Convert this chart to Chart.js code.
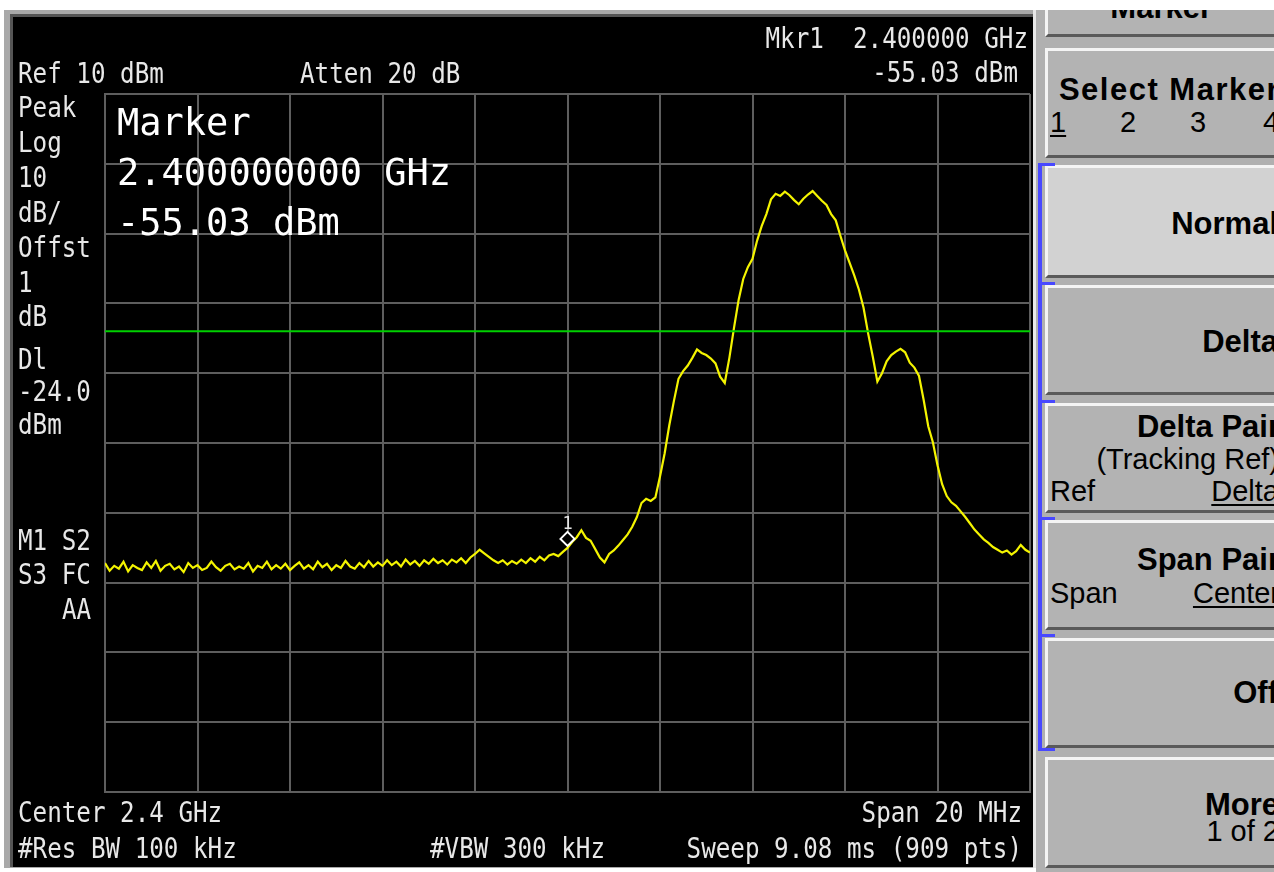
<!DOCTYPE html>
<html>
<head>
<meta charset="utf-8">
<title>Spectrum analyzer - Marker</title>
<script src="https://cdn.jsdelivr.net/npm/chart.js@4.4.0/dist/chart.umd.min.js"></script>
<style>
  html, body { margin: 0; padding: 0; }
  body { position: relative; width: 1274px; height: 872px; overflow: hidden; background: #fff; }
  #bezel { position: absolute; left: 4px; top: 10px; width: 1032px; height: 858px; background: #a9a9a9; }
  #screen { position: absolute; left: 10px; top: 14px; width: 1023px; height: 853px; background: #000;
            border-left: 3px solid #555; border-top: 3px solid #555; box-sizing: border-box; }
  #edge { position: absolute; left: 1033px; top: 10px; width: 3px; height: 858px; background: #e8e8e8; }
  canvas#trace { position: absolute; left: 13px; top: 17px; }
  #panel { position: absolute; left: 1036px; top: 10px; width: 238px; height: 862px; background: #b0b0b0; }
  .key { position: absolute; left: 1045px; width: 240px; background: #b3b3b3; box-sizing: border-box;
         border-top: 3px solid #f4f4f4; border-left: 3px solid #f4f4f4; border-bottom: 3px solid #5a5a5a; }
  .lbl { position: absolute; white-space: nowrap; color: #000; font-family: "Liberation Sans", Arial, sans-serif; }
  .bracket { position: absolute; background: #4848ff; }
  #topband { position: absolute; left: 0; top: 0; width: 1274px; height: 10px; background: #fff; }
</style>
</head>
<body>
<div id="bezel"></div>
<div id="screen"></div>
<div id="edge"></div>
<div id="panel"></div>
<canvas id="trace" width="1020" height="850"></canvas>
<div id="topband"></div>

<script>
// sweep: center 2.4 GHz, span 20 MHz, one reading every 0.1 MHz
const sweepStart = 2390;
const sweepStep = 0.1;

// trace amplitude (dBm)
const traceDbm = [
  -57.2, -58.3, -57.6, -58.0, -57.0, -58.4, -57.5, -57.9, -58.2, -57.1,
  -57.9, -56.9, -58.3, -57.6, -57.3, -58.1, -57.7, -58.5, -57.2, -57.9,
  -57.5, -58.2, -57.9, -57.0, -57.8, -58.3, -57.6, -57.3, -58.1, -57.7,
  -58.0, -57.2, -58.4, -57.6, -57.9, -57.0, -58.1, -57.5, -58.0, -57.3,
  -58.2, -57.6, -57.1, -58.0, -57.5, -58.1, -57.0, -57.8, -57.3, -58.2,
  -57.5, -57.9, -56.9, -57.7, -58.0, -57.2, -57.8, -56.9, -57.7, -57.1,
  -57.6, -56.8, -57.5, -57.0, -57.7, -56.7, -57.4, -56.9, -57.6, -56.8,
  -57.3, -56.6, -57.2, -56.8, -57.4, -56.7, -57.1, -56.5, -57.2, -56.4,
  -55.9, -55.3, -55.8, -56.3, -56.8, -57.2, -56.8, -57.4, -56.9, -57.3,
  -56.7, -57.2, -56.5, -57.0, -56.3, -56.8, -56.1, -55.9, -56.2, -55.6,
  -55.03, -54.2, -53.5, -52.5, -53.6, -54.0, -55.2, -56.4, -57.1, -55.9,
  -55.4, -54.7, -53.9, -53.1, -52.0, -50.6, -48.6, -48.0, -48.3, -47.8,
  -44.8, -41.5, -37.5, -34.0, -30.8, -29.7, -28.9, -27.8, -26.6, -27.1,
  -27.4, -27.9, -28.6, -30.5, -31.4, -27.8, -23.5, -19.5, -16.5, -14.8,
  -13.6, -11.0, -8.9, -7.2, -5.1, -4.3, -4.6, -4.0, -4.5, -5.2,
  -5.8, -5.0, -4.4, -3.9, -4.6, -5.3, -5.9, -7.2, -8.1, -10.3,
  -12.4, -14.2, -16.0, -18.0, -20.6, -24.3, -27.6, -31.2, -30.0, -28.3,
  -27.4, -26.9, -26.5, -27.0, -28.5, -29.2, -30.4, -33.8, -37.6, -39.9,
  -43.2, -45.9, -47.6, -48.5, -49.0, -49.8, -50.6, -51.5, -52.4, -53.1,
  -53.8, -54.3, -54.9, -55.3, -55.7, -55.4, -56.0, -55.5, -54.6, -55.3, -55.7
];

const markerFreq = 2400;
const markerDbm = -55.03;
const displayLine = -24.0;
const refLevel = 10;
const dbPerDiv = 10;

// screen annotations: [text, x, baseline, align]
const smallText = [
  ["Ref 10 dBm", 18, 83], ["Atten 20 dB", 300, 83],
  ["Mkr1  2.400000 GHz", 1028, 48, "right"], ["-55.03 dBm", 1018, 82, "right"],
  ["Peak", 18, 117], ["Log", 18, 152], ["10", 18, 187], ["dB/", 18, 222],
  ["Offst", 18, 257], ["1", 18, 292], ["dB", 18, 326],
  ["Dl", 18, 369], ["-24.0", 18, 401], ["dBm", 18, 434],
  ["M1 S2", 18, 550], ["S3 FC", 18, 584], ["AA", 62, 619],
  ["Center 2.4 GHz", 18, 822], ["Span 20 MHz", 1022, 822, "right"],
  ["#Res BW 100 kHz", 18, 858], ["#VBW 300 kHz", 430, 858],
  ["Sweep 9.08 ms (909 pts)", 1022, 858, "right"]
];
const bigText = [
  ["Marker", 117, 135], ["2.400000000 GHz", 117, 185], ["-55.03 dBm", 117, 235]
];

// soft keys: top/bottom in page px, labels [text, x, baseline, bold, align, underline]
const softKeys = [
  { top: 10, bottom: 37, noTop: true, labels: [["Marker", 1212, 18, true, "right"]] },
  { top: 48, bottom: 158, labels: [["Select Marker", 1280, 100, true, "right", false, 1.5],
      ["1", 1050, 133, false, "left", true], ["2", 1120, 133], ["3", 1190, 133], ["4", 1263, 133]] },
  { top: 165, bottom: 278, bg: "#d2d2d2", labels: [["Normal", 1278, 234, true, "right"]] },
  { top: 285, bottom: 395, labels: [["Delta", 1278, 352, true, "right"]] },
  { top: 403, bottom: 513, labels: [["Delta Pair", 1280, 437, true, "right"],
      ["(Tracking Ref)", 1279, 470, false, "right"], ["Ref", 1050, 502],
      ["Delta", 1279, 502, false, "right", true]] },
  { top: 520, bottom: 630, labels: [["Span Pair", 1280, 570, true, "right"],
      ["Span", 1050, 604], ["Center", 1280, 604, false, "right", true]] },
  { top: 638, bottom: 748, labels: [["Off", 1278, 703, true, "right"]] },
  { top: 757, bottom: 868, labels: [["More", 1279, 815, true, "right"], ["1 of 2", 1279, 842, false, "right"]] }
];
const bracketTicks = [163, 282, 400, 517, 634, 748];

// ---------- soft key panel ----------
softKeys.forEach((k) => {
  let d = document.createElement("div");
  d.className = "key";
  d.style.top = k.top + "px";
  d.style.height = k.bottom - k.top + "px";
  if (k.bg) d.style.background = k.bg;
  if (k.noTop) d.style.borderTop = "none";
  document.body.insertBefore(d, document.getElementById("topband"));
  k.labels.forEach((l) => {
    let bold = l[3] === true;
    let size = bold ? 31 : 29;
    let s = document.createElement("div");
    s.className = "lbl";
    s.textContent = l[0];
    s.style.fontSize = size + "px";
    s.style.lineHeight = size + "px";
    s.style.fontWeight = bold ? "bold" : "normal";
    s.style.top = Math.round(l[2] - 0.846 * size) + "px";
    if (l[6]) s.style.letterSpacing = l[6] + "px";
    if (l[4] === "right") s.style.right = 1274 - l[1] + "px";
    else s.style.left = l[1] + "px";
    if (l[5]) {
      s.style.textDecoration = "underline";
      s.style.textDecorationThickness = "2px";
      s.style.textUnderlineOffset = "3px";
    }
    document.body.insertBefore(s, document.getElementById("topband"));
  });
});

let bar = document.createElement("div");
bar.className = "bracket";
bar.style.left = "1038px";
bar.style.top = bracketTicks[0] + "px";
bar.style.width = "4px";
bar.style.height = bracketTicks[bracketTicks.length - 1] - bracketTicks[0] + 3 + "px";
document.body.appendChild(bar);
bracketTicks.forEach((y) => {
  let t = document.createElement("div");
  t.className = "bracket";
  t.style.left = "1038px";
  t.style.top = y + "px";
  t.style.width = "17px";
  t.style.height = "3px";
  document.body.appendChild(t);
});

// ---------- analyzer screen ----------
const OX = 13, OY = 17; // canvas offset on page

function monoText(ctx, str, x, y, size, sx, align, color) {
  ctx.save();
  ctx.font = size + "px 'DejaVu Sans Mono'";
  ctx.fillStyle = color;
  ctx.textAlign = align || "left";
  ctx.textBaseline = "alphabetic";
  ctx.translate(x - OX, y - OY);
  ctx.scale(sx, 1);
  ctx.fillText(str, 0, 0);
  ctx.restore();
}

const screenText = {
  id: "screenText",
  afterDraw(chart) {
    const ctx = chart.ctx;
    smallText.forEach((t) => monoText(ctx, t[0], t[1], t[2], 28, 0.865, t[3], "#e8e8e8"));
    bigText.forEach((t) => monoText(ctx, t[0], t[1], t[2], 37, 1, "left", "#ffffff"));

    // marker 1 diamond, drawn just above the trace point
    let px = chart.scales.x.getPixelForValue(markerFreq);
    let py = chart.scales.y.getPixelForValue(markerDbm) - 9;
    ctx.save();
    ctx.strokeStyle = "#ffffff";
    ctx.fillStyle = "#000000";
    ctx.lineWidth = 2;
    ctx.beginPath();
    ctx.moveTo(px, py - 7);
    ctx.lineTo(px + 7, py);
    ctx.lineTo(px, py + 7);
    ctx.lineTo(px - 7, py);
    ctx.closePath();
    ctx.fill();
    ctx.stroke();
    ctx.restore();
    ctx.save();
    ctx.font = "17px 'DejaVu Sans Mono'";
    ctx.fillStyle = "#e4e4e4";
    ctx.textAlign = "center";
    ctx.fillText("1", px, py - 10);
    ctx.restore();
  },
};

const tracePoints = traceDbm.map((v, i) => ({ x: sweepStart + i * sweepStep, y: v }));
const lineFreqs = [sweepStart, sweepStart + (traceDbm.length - 1) * sweepStep];

const gridStyle = { color: "#5e5e5e", lineWidth: 2, drawTicks: false };
const borderStyle = { color: "#5e5e5e", width: 2 };

new Chart(document.getElementById("trace"), {
  type: "line",
  data: {
    datasets: [
      {
        data: lineFreqs.map((f) => ({ x: f, y: displayLine })),
        borderColor: "#00d000",
        borderWidth: 2,
        pointRadius: 0,
      },
      {
        data: tracePoints,
        borderColor: "#f4f400",
        borderWidth: 2.2,
        pointRadius: 0,
        tension: 0,
      },
    ],
  },
  options: {
    responsive: false,
    animation: false,
    events: [],
    layout: { padding: { left: 92, top: 77, right: 3, bottom: 75 } },
    plugins: { legend: { display: false }, tooltip: { enabled: false } },
    scales: {
      x: {
        type: "linear",
        min: sweepStart,
        max: sweepStart + 20,
        ticks: { display: false, stepSize: 2 },
        grid: gridStyle,
        border: borderStyle,
        afterFit: (s) => { s.height = 0; },
      },
      y: {
        min: refLevel - 10 * dbPerDiv,
        max: refLevel,
        ticks: { display: false, stepSize: dbPerDiv },
        grid: gridStyle,
        border: borderStyle,
        afterFit: (s) => { s.width = 0; },
      },
    },
  },
  plugins: [screenText],
});
</script>
</body>
</html>
